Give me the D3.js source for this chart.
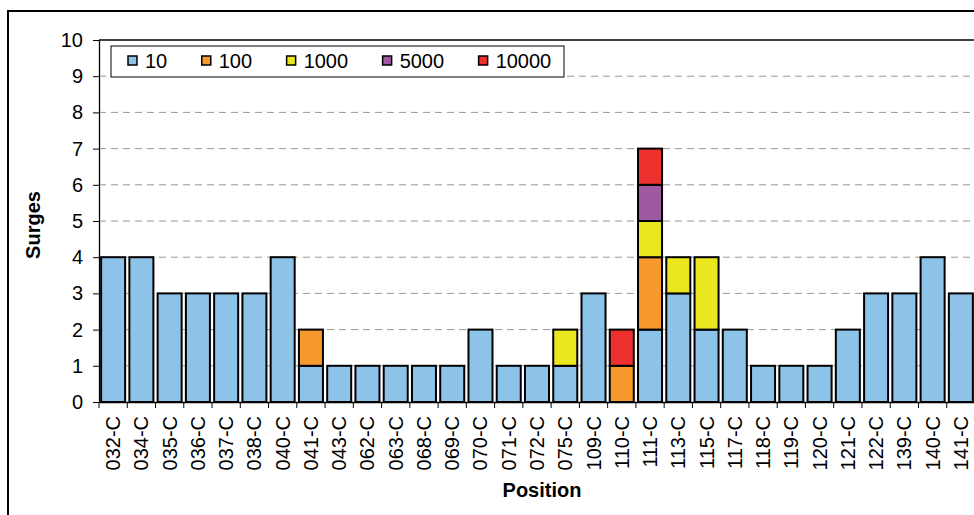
<!DOCTYPE html>
<html><head><meta charset="utf-8">
<script src="https://cdn.jsdelivr.net/npm/d3@7"></script>
<style>body{margin:0;background:#fff}svg{display:block;font-family:Arial,"Liberation Sans",sans-serif}</style>
</head><body><svg id="c" width="974" height="515"></svg>
<script>
const categories = ["032-C","034-C","035-C","036-C","037-C","038-C","040-C","041-C","043-C","062-C","063-C","068-C","069-C","070-C","071-C","072-C","075-C","109-C","110-C","111-C","113-C","115-C","117-C","118-C","119-C","120-C","121-C","122-C","139-C","140-C","141-C"];
const seriesNames = ["10","100","1000","5000","10000"];
const s10    = [4,4,3,3,3,3,4,1,1,1,1,1,1,2,1,1,1,3,0,2,3,2,2,1,1,1,2,3,3,4,3];
const s100   = [0,0,0,0,0,0,0,1,0,0,0,0,0,0,0,0,0,0,1,2,0,0,0,0,0,0,0,0,0,0,0];
const s1000  = [0,0,0,0,0,0,0,0,0,0,0,0,0,0,0,0,1,0,0,1,1,2,0,0,0,0,0,0,0,0,0];
const s5000  = [0,0,0,0,0,0,0,0,0,0,0,0,0,0,0,0,0,0,0,1,0,0,0,0,0,0,0,0,0,0,0];
const s10000 = [0,0,0,0,0,0,0,0,0,0,0,0,0,0,0,0,0,0,1,1,0,0,0,0,0,0,0,0,0,0,0];
const yTicks = [0,1,2,3,4,5,6,7,8,9,10];
const colors = ["#8DC3E9","#F7992D","#EBE71F","#9E59A2","#EE312E"];

const seriesVals = [s10,s100,s1000,s5000,s10000];
const rows = categories.map((c,i)=>{const r={cat:c};seriesNames.forEach((n,k)=>r[n]=seriesVals[k][i]);return r;});
const stack = d3.stack().keys(seriesNames)(rows);

const svg = d3.select("#c");
const L=99, R=975, T=40, B=402;
const x = d3.scaleBand().domain(categories).range([L,R]).paddingInner(0.15).paddingOuter(0.075);
const y = d3.scaleLinear().domain([0,10]).range([B,T]);

// outer border
svg.append("rect").attr("x",8).attr("y",11).attr("width",1000).attr("height",600)
  .attr("fill","none").attr("stroke","#000").attr("stroke-width",2);

// gridlines
svg.append("g").selectAll("line").data(yTicks.filter(d=>d>0&&d<10)).join("line")
  .attr("x1",L).attr("x2",R).attr("y1",d=>y(d)).attr("y2",d=>y(d))
  .attr("stroke","#999").attr("stroke-width",1).attr("stroke-dasharray","7,5");
// top border of plot
svg.append("line").attr("x1",L).attr("x2",R).attr("y1",T).attr("y2",T).attr("stroke","#000").attr("stroke-width",1.3);

// bars
svg.append("g").selectAll("g").data(stack).join("g")
  .attr("fill",(d,i)=>colors[i])
  .selectAll("rect").data(d=>d.filter(p=>p[1]-p[0]>0)).join("rect")
  .attr("x",d=>x(d.data.cat)).attr("width",x.bandwidth())
  .attr("y",d=>y(d[1])).attr("height",d=>y(d[0])-y(d[1]))
  .attr("stroke","#000").attr("stroke-width",2);

// y axis
const ya = svg.append("g").attr("transform",`translate(${L},0)`)
  .call(d3.axisLeft(y).tickValues(yTicks).tickSize(6).tickPadding(10).tickSizeOuter(0));
ya.select(".domain").attr("stroke","#000").attr("stroke-width",1.3);
ya.selectAll("text").attr("font-size",20).attr("fill","#000").attr("font-family","Arial,'Liberation Sans',sans-serif");

// x axis
const xb = d3.scaleBand().domain(categories).range([L,R]);
const xa = svg.append("g").attr("transform",`translate(0,${B})`)
  .call(d3.axisBottom(xb).tickSize(0).tickSizeOuter(0));
xa.select(".domain").attr("stroke","#000").attr("stroke-width",1.3);
xa.selectAll("text").attr("font-size",20).attr("fill","#000")
  .attr("font-family","Arial,'Liberation Sans',sans-serif")
  .attr("transform","rotate(-90)").attr("text-anchor","end")
  .attr("x",-14).attr("y",0).attr("dy","0.35em");
// tick marks at band boundaries
svg.append("g").selectAll("line").data(categories).join("line")
  .attr("x1",d=>xb(d)).attr("x2",d=>xb(d)).attr("y1",B).attr("y2",B+6)
  .attr("stroke","#000").attr("stroke-width",1);

// axis titles
svg.append("text").attr("x",542).attr("y",497).attr("text-anchor","middle")
  .attr("font-size",20).attr("font-weight","bold").text("Position");
svg.append("text").attr("transform","translate(40,225) rotate(-90)").attr("text-anchor","middle")
  .attr("font-size",20).attr("font-weight","bold").text("Surges");

// legend
const lg = svg.append("g");
lg.append("rect").attr("x",111).attr("y",46).attr("width",453).attr("height",31)
  .attr("fill","#fff").attr("stroke","#000").attr("stroke-width",1);
let cx = 128;
seriesNames.forEach((n,i)=>{
  lg.append("rect").attr("x",cx).attr("y",56).attr("width",9).attr("height",9)
    .attr("fill",colors[i]).attr("stroke","#000").attr("stroke-width",1.5);
  const t = lg.append("text").attr("x",cx+17).attr("y",67.5).attr("font-size",20).text(n);
  cx += t.node().getComputedTextLength()+51.5;
});
</script></body></html>
